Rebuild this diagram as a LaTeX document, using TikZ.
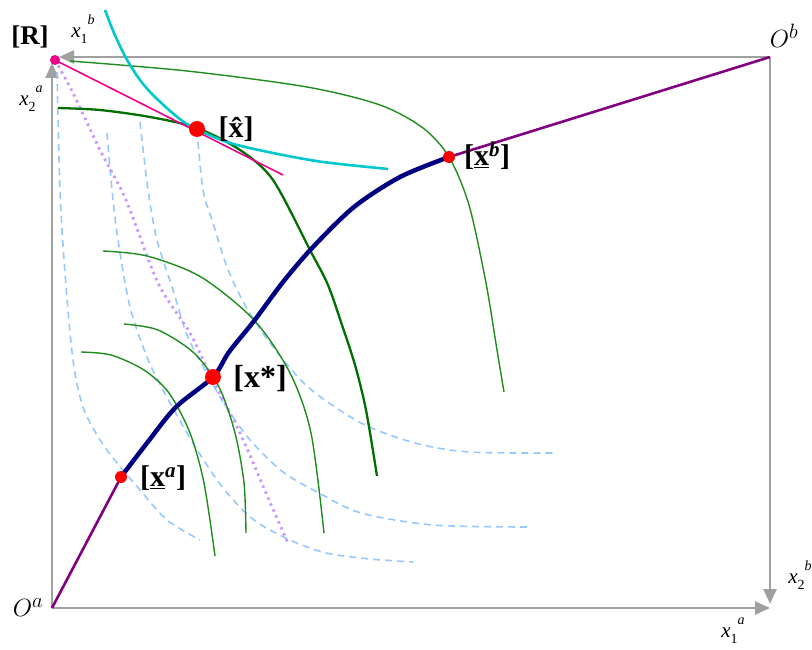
\documentclass[tikz,border=0pt]{standalone}
\usepackage{fontspec}
\setmainfont{Liberation Serif}
\usetikzlibrary{arrows.meta}
\definecolor{axisgray}{RGB}{160,160,160}
\definecolor{icgreen}{RGB}{30,140,30}
\definecolor{icdark}{RGB}{0,110,0}
\definecolor{icblue}{RGB}{150,200,255}
\definecolor{lilac}{RGB}{200,150,255}
\definecolor{cyanline}{RGB}{0,200,205}
\definecolor{ccpurple}{RGB}{128,0,128}
\definecolor{corenavy}{RGB}{0,0,128}
\newcommand{\axlab}[2]{\textit{x}\raisebox{-6pt}{\fontsize{14}{14}\selectfont #1}\raisebox{13pt}{\fontsize{14}{14}\selectfont\textit{#2}}}
\begin{document}
\begin{tikzpicture}[x=1pt,y=-1pt,
  axis/.style={draw=axisgray, line width=2.5pt, -{Triangle[length=15pt,width=13pt]}},
  icA/.style={draw=icgreen, line width=1.4pt},
  icAthick/.style={draw=icdark, line width=2.3pt},
  icB/.style={draw=icblue, line width=1.6pt, dash pattern=on 7pt off 5pt},
  lil/.style={draw=lilac, line width=2.8pt, dash pattern=on 2.5pt off 4pt},
  ccline/.style={draw=ccpurple, line width=2.6pt},
  coreline/.style={draw=corenavy, line width=4.5pt, line cap=round},
  bigdot/.style={fill=red, circle, inner sep=0pt, minimum size=16pt},
  smalldot/.style={fill=red, circle, inner sep=0pt, minimum size=12pt},
  lbl/.style={inner sep=0pt, font=\fontsize{30}{34}\selectfont\bfseries},
  axlbl/.style={inner sep=0pt, font=\fontsize{21}{24}\selectfont},
  olbl/.style={inner sep=0pt, font=\fontsize{28}{32}\selectfont}]
\useasboundingbox (0,0) rectangle (812,650);
% key coordinates
\coordinate (Oa) at (52,608);
\coordinate (Ob) at (770,57);
\coordinate (Rpt) at (55,60);
\coordinate (xa) at (121,477);
\coordinate (xb) at (449,157);
\coordinate (xs) at (213,377);
\coordinate (xh) at (197,129);
\coordinate (ax1a) at (770,608);
\coordinate (ax2a) at (52,63);
\coordinate (ax1b) at (59,57);
\coordinate (ax2b) at (770,604);
\coordinate (tanend) at (283,175);
% axes
\draw[axis] (Oa) -- (ax1a);
\draw[axis] (Oa) -- (ax2a);
\draw[axis] (Ob) -- (ax1b);
\draw[axis] (Ob) -- (ax2b);
% indifference curves of b (dashed)
\draw[icB] plot[smooth] coordinates {(57,72) (60,190) (65,273) (73,360) (83,407) (100,440) (117,463) (140,490) (167,520) (200,540)};
\draw[icB] plot[smooth] coordinates {(107,133) (112,190) (118,240) (130,307) (147,357) (163,390) (193,443) (223,488) (254,520) (290,540) (326,553) (370,559) (413,562)};
\draw[icB] plot[smooth] coordinates {(140,122) (148,190) (157,240) (173,290) (187,335) (205,370) (225,405) (250,440) (283,472) (319,493) (361,513) (433,525) (527,527)};
\draw[icB] plot[smooth] coordinates {(197,130) (203,190) (213,223) (227,267) (245,305) (270,343) (308,387) (361,423) (415,443) (469,452) (555,453)};
% lilac dotted
\draw[lil] plot[smooth] coordinates {(Rpt) (73,93) (100,150) (126,200) (158,283) (190,333) (211,377) (240,433) (269,500) (288,543)};
% indifference curves of a (green)
\draw[icA] plot[smooth] coordinates {(70,61) (187,71) (307,87) (380,105) (423,128) (449,157) (469,205) (486,283) (497,350) (504,392)};
\draw[icAthick] plot[smooth] coordinates {(58,108) (100,110) (150,117) (197,128) (240,150) (273,180) (310,250) (328,285) (342,325) (355,365) (366,410) (377,476)};
\draw[icA] plot[smooth] coordinates {(103,251) (147,256) (201,277) (254,320) (290,373) (311,433) (324,533)};
\draw[icA] plot[smooth] coordinates {(124,324) (158,330) (194,353) (219,387) (235,433) (244,483) (246,533)};
\draw[icA] plot[smooth] coordinates {(81,352) (111,355) (144,370) (169,393) (190,433) (204,483) (215,556)};
% cyan curve
\draw[draw=cyanline, line width=2.6pt] plot[smooth] coordinates {(105,10) (114,33) (126,58) (140,80) (157,99) (187,124) (227,142) (273,153) (323,162) (388,169)};
% magenta tangent
\draw[draw=magenta, line width=1.6pt] (Rpt) -- (tanend);
% contract curve pieces
\draw[ccline] (Oa) -- (xa);
\draw[ccline] (xb) -- (Ob);
\draw[coreline] plot[smooth] coordinates {(xa) (147,443) (176,407) (xs) (229,352) (254,321) (283,282) (313,247) (354,207) (400,177) (xb)};
% points
\node[bigdot] (dh) at (xh) {};
\node[bigdot] (ds) at (xs) {};
\node[smalldot] (da) at (xa) {};
\node[smalldot] (db) at (xb) {};
\node[fill=magenta, circle, inner sep=0pt, minimum size=10pt] (dR) at (Rpt) {};
% labels
\node[lbl, font=\fontsize{27}{30}\selectfont\bfseries] (lR) at (30,37) {[R]};
\node[lbl] (lh) at (236,129) {[\^{x}]};
\node[lbl] (lb) at (487,156) {[\underline{x}\textsuperscript{\textit{b}}]};
\node[lbl, font=\fontsize{32}{36}\selectfont\bfseries] (ls) at (260,379) {[x*]};
\node[lbl] (la) at (163,478) {[\underline{x}\textsuperscript{\textit{a}}]};
\node[axlbl] (l1b) at (83,29) {\axlab{1}{b}};
\node[axlbl] (l2a) at (31,99) {\axlab{2}{a}};
\node[axlbl] (l2b) at (800,575) {\axlab{2}{b}};
\node[axlbl] (l1a) at (733,631) {\axlab{1}{a}};
\node[olbl] (lOa) at (28,608) {$O^{a}$};
\node[olbl] (lOb) at (784,36) {$O^{b}$};
\end{tikzpicture}
\end{document}
